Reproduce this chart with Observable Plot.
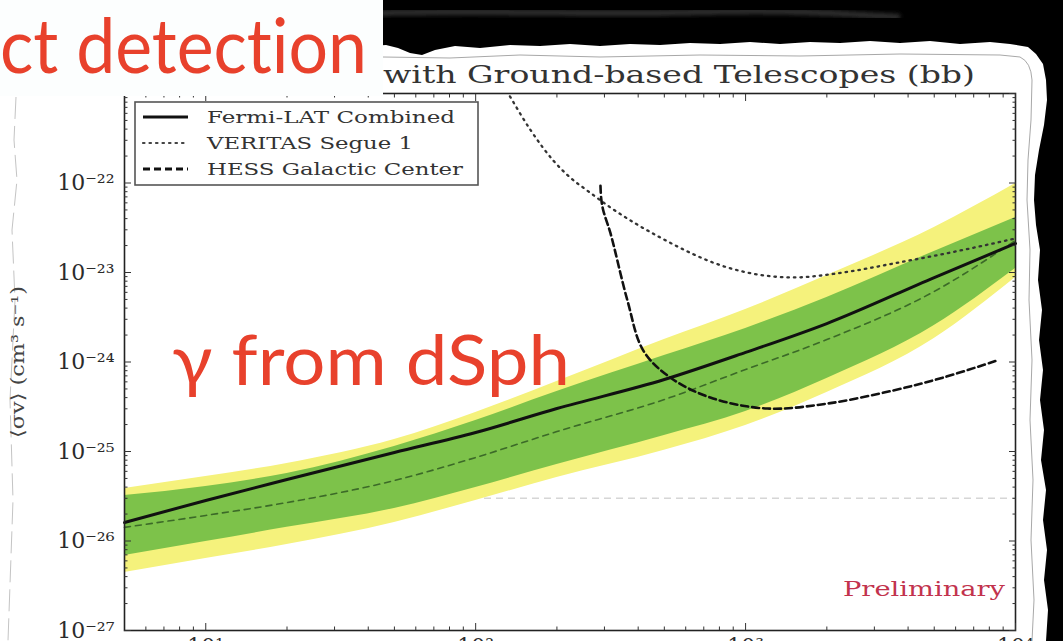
<!DOCTYPE html>
<html><head><meta charset="utf-8">
<script src="https://cdn.jsdelivr.net/npm/d3@7"></script>
<script src="https://cdn.jsdelivr.net/npm/@observablehq/plot@0.6"></script>
<style>
html,body{margin:0;padding:0;background:#fff;overflow:hidden;}
#stage{position:relative;width:1063px;height:641px;overflow:hidden;background:#fff;}
#stage > *{position:absolute;left:0;top:0;}
text{font-variant-ligatures:none;font-feature-settings:"liga" 0;}
</style></head>
<body><div id="stage">
<svg id="bg" width="1063" height="641"></svg>
<div id="chart"></div>
<svg id="overlay" width="1063" height="641"></svg>
</div>
<script>
// ---------------- data ----------------
const masses        = [5, 10, 20, 50, 100, 200, 500, 1000, 2000, 5000, 10000];           // GeV
const fermiCombined = [1.61e-26, 2.84e-26, 4.86e-26, 9.75e-26, 1.63e-25, 3.02e-25, 6.37e-25, 1.28e-24, 2.69e-24, 8.79e-24, 2.11e-23];
const fermiMedian   = [1.42e-26, 1.93e-26, 2.69e-26, 4.74e-26, 8.57e-26, 1.67e-25, 3.81e-25, 8.24e-25, 1.78e-24, 6.14e-24, 2.28e-23];
const band1Low      = [6.89e-27, 9.87e-27, 1.42e-26, 2.31e-26, 3.96e-26, 7.16e-26, 1.51e-25, 2.80e-25, 6.55e-25, 2.56e-24, 1.11e-23];
const band1High     = [3.22e-26, 4.06e-26, 5.68e-26, 1.14e-25, 2.22e-25, 4.68e-25, 1.18e-24, 2.37e-24, 5.26e-24, 1.72e-23, 4.12e-23];
const band2Low      = [4.45e-27, 6.37e-27, 9.14e-27, 1.61e-26, 2.84e-26, 5.12e-26, 1.03e-25, 1.95e-25, 4.56e-25, 1.83e-24, 8.79e-24];
const band2High     = [3.86e-26, 5.26e-26, 7.35e-26, 1.36e-25, 2.73e-25, 6.05e-25, 1.78e-24, 3.86e-24, 9.25e-24, 3.18e-23, 9.86e-23];

const veritasMass   = [113, 132, 160, 194, 224, 259, 316, 483, 855, 1503, 2300, 3525, 6240, 10000];
const veritasSigma  = [2.2e-21, 1.0e-21, 3.87e-22, 1.78e-22, 1.15e-22, 8.24e-23, 5.32e-23, 2.46e-23, 1.14e-23, 8.8e-24, 1.0e-23, 1.26e-23, 1.76e-23, 2.40e-23];

const hessMass      = [290, 292, 297, 316, 365, 418, 526, 740, 1202, 2008, 3525, 5400, 8550];
const hessSigma     = [9.3e-23, 6.6e-23, 4.93e-23, 2.73e-23, 4.86e-24, 1.34e-24, 6.71e-25, 4.01e-25, 3.02e-25, 3.43e-25, 4.81e-25, 6.71e-25, 1.04e-24];

const thermalRelic  = [3e-26];

const xDomain       = [5, 10000];
const yDomain       = [1e-27, 1e-21];
const xMajorTicks   = [10, 100, 1000, 10000];
const xMinorTicks   = [6,7,8,9,20,30,40,50,60,70,80,90,200,300,400,500,600,700,800,900,2000,3000,4000,5000,6000,7000,8000,9000];
const yMajorTicks   = [1e-27, 1e-26, 1e-25, 1e-24, 1e-23, 1e-22, 1e-21];
const yLabelTicks   = [1e-27, 1e-26, 1e-25, 1e-24, 1e-23, 1e-22];
const yMinorTicks   = [-27,-26,-25,-24,-23,-22].flatMap(e => [2,3,4,5,6,7,8,9].map(k => +(k + "e" + e)));

const legendLabels  = ["Fermi-LAT Combined", "VERITAS Segue 1", "HESS Galactic Center"];
const titleText     = "with Ground-based Telescopes (bb)";
const yAxisLabel    = "\u27e8\u03c3v\u27e9 (cm\u00b3 s\u207b\u00b9)";

// ---------------- helpers ----------------
const SUP = {"-":"\u207b","0":"\u2070","1":"\u00b9","2":"\u00b2","3":"\u00b3","4":"\u2074","5":"\u2075","6":"\u2076","7":"\u2077","8":"\u2078","9":"\u2079"};
const pow10 = d => "10" + String(Math.round(Math.log10(d))).split("").map(c => SUP[c]).join("");
const SERIF = "DejaVu Serif";
const tickStroke = "#333";

// ---------------- chart ----------------
const chart = Plot.plot({
  width: 1063, height: 641,
  marginLeft: 124, marginRight: 48, marginTop: 93, marginBottom: 11,
  style: {background: "transparent", overflow: "hidden"},
  x: {type: "log", domain: xDomain},
  y: {type: "log", domain: yDomain},
  marks: [
    Plot.ruleY(thermalRelic, {stroke: "#d6d6d6", strokeWidth: 1.5, strokeDasharray: "7,5"}),
    Plot.areaY(masses, {x: masses, y1: band2Low, y2: band2High, fill: "#f5f27c", curve: "monotone-x"}),
    Plot.areaY(masses, {x: masses, y1: band1Low, y2: band1High, fill: "#7dc24a", curve: "monotone-x"}),
    Plot.line(masses, {x: masses, y: fermiMedian, stroke: "#3c6a28", strokeWidth: 1.6, strokeDasharray: "6,5", curve: "monotone-x"}),
    Plot.line(masses, {x: masses, y: fermiCombined, stroke: "#111", strokeWidth: 3, curve: "monotone-x"}),
    Plot.line(veritasMass, {x: veritasMass, y: veritasSigma, stroke: "#333", strokeWidth: 2.3, strokeDasharray: "1.5,5", strokeLinecap: "round", curve: "monotone-x", clip: true}),
    Plot.line(hessMass, {x: hessMass, y: hessSigma, stroke: "#111", strokeWidth: 2.6, strokeDasharray: "7,4", curve: "catmull-rom", clip: true}),
    Plot.frame({stroke: "#222", strokeWidth: 1.6}),
    // inward ticks on all four sides
    Plot.axisY(yMajorTicks, {anchor: "left", tickSize: -7, text: null, label: null, stroke: tickStroke}),
    Plot.axisY(yMinorTicks, {anchor: "left", tickSize: -3.5, text: null, label: null, stroke: tickStroke}),
    Plot.axisY(yMajorTicks, {anchor: "right", tickSize: -7, text: null, label: null, stroke: tickStroke}),
    Plot.axisY(yMinorTicks, {anchor: "right", tickSize: -3.5, text: null, label: null, stroke: tickStroke}),
    Plot.axisX(xMajorTicks, {anchor: "bottom", tickSize: -7, text: null, label: null, stroke: tickStroke}),
    Plot.axisX(xMinorTicks, {anchor: "bottom", tickSize: -3.5, text: null, label: null, stroke: tickStroke}),
    Plot.axisX(xMajorTicks, {anchor: "top", tickSize: -7, text: null, label: null, stroke: tickStroke}),
    Plot.axisX(xMinorTicks, {anchor: "top", tickSize: -3.5, text: null, label: null, stroke: tickStroke}),
    // tick labels
    Plot.axisY(yLabelTicks, {anchor: "left", tickSize: 0, tickPadding: 10, tickFormat: pow10, label: null,
      fontSize: 22, fontFamily: SERIF, fill: "#2b2b2b"}),
    Plot.axisX(xMajorTicks, {anchor: "bottom", tickSize: 0, tickPadding: 8, tickFormat: pow10, label: null,
      fontSize: 22, fontFamily: SERIF, fill: "#2b2b2b"})
  ]
});
document.getElementById("chart").appendChild(chart);

// ---------------- background: slide + torn paper ----------------
const bg = d3.select("#bg");
const defs = bg.append("defs");
defs.append("filter").attr("id", "soft").append("feGaussianBlur").attr("stdDeviation", 2);
bg.append("path")
  .attr("fill", "#000")
  .attr("d", "M370,0 H1063 V641 H1046 L1048,610 L1044,580 L1047,550 L1043,520 L1046,490 L1041,460 L1044,430 L1040,400 L1043,370 L1039,340 L1042,310 L1038,280 L1040,250 L1036,225 L1034,200 L1035,175 L1039,150 L1044,125 L1047,100 L1046,80 L1043,64 L1036,54 L1028,47 L1010,44 L990,42 L960,44 L930,41 L900,43 L870,41 L840,43 L810,42 L780,44 L750,42 L720,44 L690,43 L660,45 L630,44 L600,46 L570,44 L540,46 L510,45 L480,48 L455,46 L435,50 L422,55 L410,53 L398,48 L386,45 L370,46 Z");
bg.append("path")
  .attr("fill", "none").attr("stroke", "#3e3e3e").attr("stroke-width", 6).attr("opacity", 0.8)
  .attr("filter", "url(#soft)")
  .attr("d", "M380,13 C500,10 600,15 700,12 S850,15 900,17");
bg.append("path")
  .attr("fill", "none").attr("stroke", "#a8a8a8").attr("stroke-width", 1)
  .attr("d", "M383,57 L450,58 L520,55 L600,57 L700,55 L800,56 L900,54 L1000,55 L1020,57 Q1031,62 1032,80 L1031,120 L1028,160 L1027,200 L1030,250 L1029,300 L1032,360 L1030,420 L1033,480 L1031,540 L1034,600 L1032,641");
bg.append("path")
  .attr("fill", "none").attr("stroke", "#c4c4c4").attr("stroke-width", 1).attr("stroke-dasharray", "22,7")
  .attr("d", "M16,97 L14,140 L17,180 L12,230 L15,300 L10,400 L13,500 L8,641");

// ---------------- overlay: slide texts, legend ----------------
const ov = d3.select("#overlay");
// white slide box top-left
ov.append("rect").attr("x", 0).attr("y", 0).attr("width", 383).attr("height", 96).attr("fill", "#fcfefe");
ov.append("text").text("ct detection")
  .attr("x", 0).attr("y", 73).attr("font-family", "Lato, 'Open Sans', sans-serif").attr("font-size", 76)
  .attr("fill", "#e8412c").attr("textLength", 367).attr("lengthAdjust", "spacingAndGlyphs");
// chart title (visible part)
ov.append("text").text(titleText)
  .attr("x", 383).attr("y", 83).attr("font-family", SERIF).attr("font-size", 24)
  .attr("fill", "#333").attr("textLength", 592).attr("lengthAdjust", "spacingAndGlyphs");
// y axis label
ov.append("text").text(yAxisLabel)
  .attr("transform", "translate(24,362) rotate(-90)").attr("x", -76)
  .attr("font-family", SERIF).attr("font-size", 18).attr("fill", "#444")
  .attr("textLength", 152).attr("lengthAdjust", "spacingAndGlyphs");
// legend
const lg = ov.append("g");
lg.append("rect").attr("x", 135).attr("y", 102).attr("width", 343).attr("height", 83)
  .attr("fill", "#fff").attr("stroke", "#555").attr("stroke-width", 1.6);
const legendStyles = [
  {stroke: "#111", width: 3, dash: null, cap: "butt"},
  {stroke: "#444", width: 2.2, dash: "1.5,5", cap: "round"},
  {stroke: "#111", width: 3, dash: "7,4", cap: "butt"}
];
const legendRowY = [117, 143, 169];
const legendTextLen = [248, 206, 256];
legendLabels.forEach((lab, i) => {
  const s = legendStyles[i];
  lg.append("line").attr("x1", 143).attr("x2", 188).attr("y1", legendRowY[i]).attr("y2", legendRowY[i])
    .attr("stroke", s.stroke).attr("stroke-width", s.width).attr("stroke-dasharray", s.dash).attr("stroke-linecap", s.cap);
  lg.append("text").text(lab).attr("x", 207).attr("y", legendRowY[i] + 6)
    .attr("font-family", SERIF).attr("font-size", 17).attr("fill", "#333")
    .attr("textLength", legendTextLen[i]).attr("lengthAdjust", "spacingAndGlyphs");
});
// Preliminary stamp
ov.append("text").text("Preliminary")
  .attr("x", 843).attr("y", 596).attr("font-family", SERIF).attr("font-size", 20)
  .attr("fill", "#c2334d").attr("textLength", 162).attr("lengthAdjust", "spacingAndGlyphs");
// slide overlay text
ov.append("text").text("\u03b3 from dSph")
  .attr("x", 172).attr("y", 385).attr("font-family", "Lato, 'Open Sans', sans-serif").attr("font-size", 70)
  .attr("fill", "#e8412c").attr("textLength", 398).attr("lengthAdjust", "spacingAndGlyphs");
</script>
</body></html>
